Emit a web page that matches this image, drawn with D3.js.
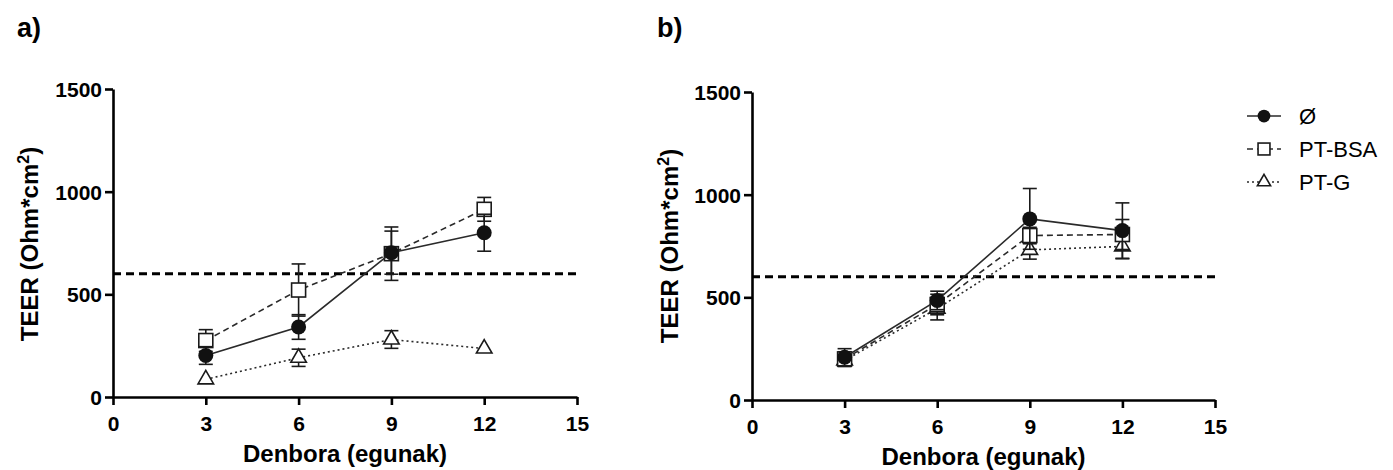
<!DOCTYPE html>
<html><head><meta charset="utf-8">
<script src="https://cdn.jsdelivr.net/npm/d3@7"></script>
<style>body{margin:0;background:#fff}svg{display:block}text{font-family:"Liberation Sans",Arial,sans-serif}</style>
</head><body>
<script>
const days = [3, 6, 9, 12];
const xTicks = [0, 3, 6, 9, 12, 15];
const yTicks = [0, 500, 1000, 1500];
const seriesNames = ["Ø", "PT-BSA", "PT-G"];
const threshold = 600;
// panel a
const aCtrl = [202, 341, 703, 800], aCtrlErr = [43, 60, 105, 90];
const aBSA = [275, 521, 698, 914], aBSAErr = [53, 127, 130, 58];
const aG = [86, 191, 280, 236], aGErr = [0, 42, 43, 0];
// panel b
const bCtrl = [208, 485, 882, 825], bCtrlErr = [42, 45, 148, 135];
const bBSA = [200, 465, 801, 806], bBSAErr = [35, 50, 40, 73];
const bG = [193, 445, 731, 748], bGErr = [30, 55, 45, 60];

const W = 1393, H = 470;
const svg = d3.select("body").append("svg").attr("width", W).attr("height", H);
const ink = "#1a1a1a";
const styles = [
  {dash: null, sym: "circle"},
  {dash: "6,4", sym: "square"},
  {dash: "2,3", sym: "triangle"}
];

function marker(g, type, cx, cy, k = 1) {
  if (type === "circle") {
    g.append("circle").attr("cx", cx).attr("cy", cy).attr("r", 7.5 * k).attr("fill", "#111");
  } else if (type === "square") {
    const s = 14 * k;
    g.append("rect").attr("x", cx - s / 2).attr("y", cy - s / 2).attr("width", s).attr("height", s)
      .attr("fill", "#fff").attr("stroke", ink).attr("stroke-width", 1.6);
  } else {
    g.append("path").attr("transform", `translate(${cx},${cy})`)
      .attr("d", d3.symbol(d3.symbolTriangle, 105 * k * k)())
      .attr("fill", "#fff").attr("stroke", ink).attr("stroke-width", 1.6);
  }
}

function panel(opts) {
  const {x0, x1, y0, y1, label, lx, ylx, yly, xly, data} = opts;
  const x = d3.scaleLinear().domain([0, 15]).range([x0, x1]);
  const y = d3.scaleLinear().domain([0, 1500]).range([y0, y1]);
  const g = svg.append("g");

  g.append("text").attr("x", lx).attr("y", 37).attr("font-size", 27).attr("font-weight", "bold").attr("fill", "#000").text(label);

  g.append("line").attr("x1", x(0)).attr("x2", x(15) + 4).attr("y1", y(threshold)).attr("y2", y(threshold))
    .attr("stroke", "#000").attr("stroke-width", 3).attr("stroke-dasharray", "8,5");

  [2, 1, 0].forEach(si => {
    const [vals, errs] = data[si];
    const st = styles[si];
    const sg = g.append("g");
    const line = d3.line().x((d, i) => x(days[i])).y(d => y(d));
    sg.append("path").attr("d", line(vals)).attr("fill", "none").attr("stroke", "#2a2a2a")
      .attr("stroke-width", 1.6).attr("stroke-dasharray", st.dash);
    vals.forEach((v, i) => {
      const e = errs[i];
      if (e > 0) {
        const cx = x(days[i]);
        sg.append("line").attr("x1", cx).attr("x2", cx).attr("y1", y(v - e)).attr("y2", y(v + e))
          .attr("stroke", ink).attr("stroke-width", 1.6);
        [v - e, v + e].forEach(t => sg.append("line").attr("x1", cx - 7).attr("x2", cx + 7)
          .attr("y1", y(t)).attr("y2", y(t)).attr("stroke", ink).attr("stroke-width", 1.6));
      }
    });
    vals.forEach((v, i) => marker(sg, st.sym, x(days[i]), y(v)));
  });

  const fmt = d3.format("d");
  const ax = g.append("g").attr("transform", `translate(0,${y0})`)
    .call(d3.axisBottom(x).tickValues(xTicks).tickFormat(fmt).tickSize(8).tickSizeOuter(0).tickPadding(11));
  const ay = g.append("g").attr("transform", `translate(${x0},0)`)
    .call(d3.axisLeft(y).tickValues(yTicks).tickFormat(fmt).tickSize(8).tickSizeOuter(0).tickPadding(3));
  [ax, ay].forEach(a => {
    a.select(".domain").attr("stroke", "#000").attr("stroke-width", 2.6);
    a.selectAll(".tick line").attr("stroke", "#000").attr("stroke-width", 2.6);
    a.selectAll(".tick text").attr("font-size", 21).attr("font-weight", "bold").attr("fill", "#000")
      .attr("font-family", '"Liberation Sans",Arial,sans-serif');
  });
  ay.selectAll(".tick text").attr("dy", "0.36em");

  g.append("text").attr("x", (x0 + x1) / 2).attr("y", xly).attr("text-anchor", "middle")
    .attr("font-size", 24).attr("font-weight", "bold").attr("fill", "#000").text("Denbora (egunak)");
  const yt = g.append("text").attr("transform", `translate(${ylx},${yly}) rotate(-90)`)
    .attr("text-anchor", "middle").attr("font-size", 24).attr("font-weight", "bold").attr("fill", "#000");
  yt.append("tspan").text("TEER (Ohm*cm");
  yt.append("tspan").attr("font-size", 16).attr("dy", -9).text("2");
  yt.append("tspan").attr("dy", 9).text(")");
}

panel({x0: 113, x1: 577, y0: 397, y1: 89, label: "a)", lx: 17, ylx: 38, yly: 244, xly: 462,
  data: [[aCtrl, aCtrlErr], [aBSA, aBSAErr], [aG, aGErr]]});
panel({x0: 752, x1: 1215, y0: 400, y1: 92, label: "b)", lx: 657, ylx: 678, yly: 246, xly: 465,
  data: [[bCtrl, bCtrlErr], [bBSA, bBSAErr], [bG, bGErr]]});

const leg = svg.append("g");
const legY = [116, 149, 182];
seriesNames.forEach((name, i) => {
  const cy = legY[i];
  leg.append("line").attr("x1", 1247).attr("x2", 1281).attr("y1", cy).attr("y2", cy)
    .attr("stroke", "#2a2a2a").attr("stroke-width", 1.4).attr("stroke-dasharray", styles[i].dash);
  marker(leg, styles[i].sym, 1264, cy, 0.85);
  leg.append("text").attr("x", 1299).attr("y", cy).attr("dy", "0.35em").attr("font-size", 22)
    .attr("fill", "#000").text(name);
});
</script>
</body></html>
